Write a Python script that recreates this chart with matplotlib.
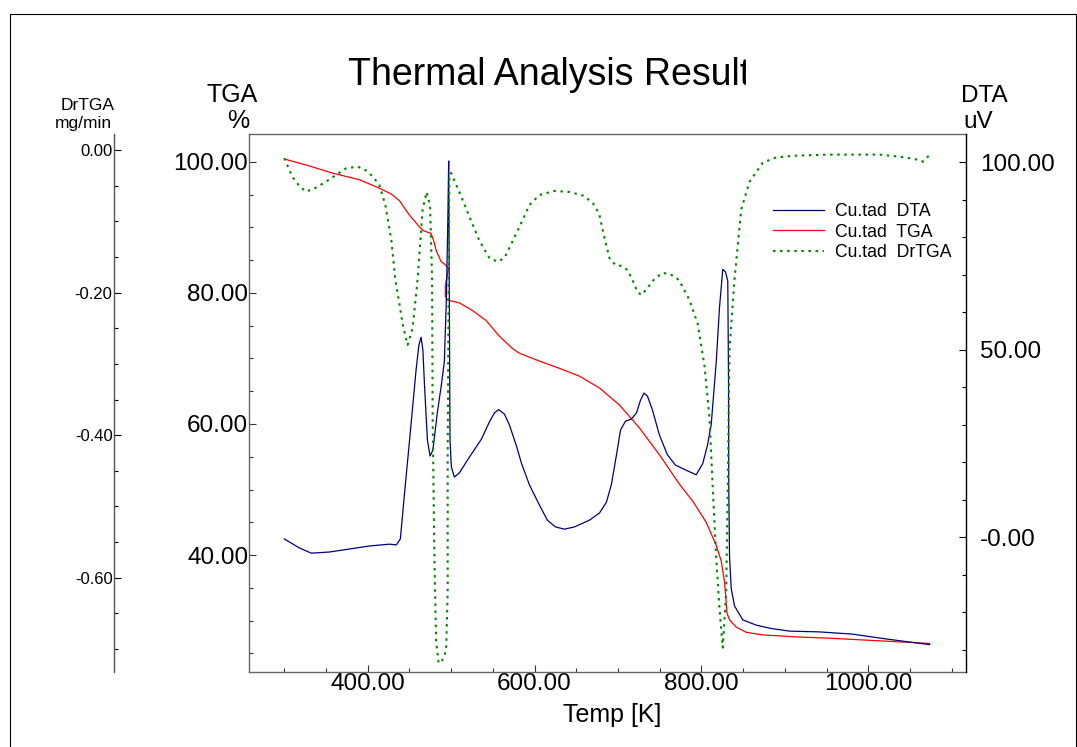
import numpy as np
import matplotlib
matplotlib.use('Agg')
import matplotlib.pyplot as plt
from matplotlib.ticker import MultipleLocator, FuncFormatter
from matplotlib.transforms import Bbox, TransformedBbox
from matplotlib.patches import Rectangle

plt.rcParams['font.family'] = ['Liberation Sans', 'DejaVu Sans']

# valores: (Temp [K], valor)
dta_pts = [(300.0, -0.5), (318.0, -2.9), (332.4, -4.3), (354.0, -4.0), (377.9, -3.2),
           (401.9, -2.4), (425.9, -1.9), (434.3, -2.1), (439.1, -0.5), (443.9, 11.2),
           (449.9, 25.3), (457.9, 44.5), (461.3, 51.2), (463.9, 53.3), (466.1, 49.9),
           (467.9, 41.1), (471.5, 25.9), (474.7, 21.6), (478.1, 23.2), (483.5, 33.3),
           (488.2, 40.5), (491.8, 46.7), (494.2, 63.2), (496.0, 84.5), (497.0, 100.3),
           (497.8, 63.2), (498.6, 25.9), (500.2, 18.7), (503.8, 16.0), (509.8, 17.1),
           (521.8, 21.3), (536.2, 26.1), (545.8, 30.7), (551.8, 33.1), (556.9, 34.0),
           (563.8, 32.8), (569.8, 29.9), (578.2, 24.3), (584.2, 19.7), (593.8, 13.9),
           (605.8, 8.5), (615.3, 4.5), (624.9, 2.7), (635.7, 2.1), (647.7, 2.7),
           (665.7, 4.5), (677.7, 6.4), (686.1, 9.3), (692.1, 14.1), (698.1, 21.9),
           (702.9, 28.5), (708.9, 30.9), (716.1, 31.5), (722.1, 33.1), (726.9, 36.5),
           (731.1, 38.4), (735.2, 37.6), (741.2, 33.9), (749.6, 27.2), (759.2, 21.9),
           (768.8, 19.2), (780.8, 17.9), (793.6, 16.6), (801.5, 19.6), (807.2, 24.5),
           (811.6, 29.9), (817.6, 46.5), (821.6, 61.3), (825.5, 71.4), (828.8, 70.7),
           (831.5, 68.3), (832.4, 41.1), (832.7, 13.1), (833.6, -5.3), (835.6, -13.7),
           (839.6, -18.4), (849.5, -22.1), (865.6, -23.5), (883.6, -24.4), (905.5, -25.1),
           (941.5, -25.3), (981.1, -25.9), (1021.8, -27.2), (1073.4, -28.7)]

tga_pts = [(300.0, 100.46), (330.0, 99.4), (357.6, 98.3), (389.9, 97.3), (413.9, 96.0),
           (428.3, 95.1), (437.9, 94.1), (449.9, 91.9), (461.9, 90.1), (466.7, 89.5),
           (475.9, 89.1), (478.7, 88.1), (482.3, 86.4), (487.9, 84.8), (493.0, 84.3),
           (496.6, 83.8), (495.4, 82.7), (493.0, 81.2), (493.0, 79.5), (495.8, 78.9),
           (509.8, 78.5), (525.8, 77.3), (541.8, 75.8), (557.8, 73.4), (573.7, 71.5),
           (581.8, 70.8), (605.8, 69.6), (629.7, 68.5), (653.7, 67.3), (677.7, 65.5),
           (701.7, 62.9), (725.6, 59.4), (749.6, 55.3), (773.6, 50.8), (789.6, 48.2),
           (805.6, 45.0), (817.6, 41.5), (823.6, 39.1), (827.6, 35.9), (829.6, 32.8),
           (830.6, 31.1), (833.6, 30.1), (841.6, 29.0), (853.6, 28.2), (873.5, 27.8),
           (913.5, 27.5), (953.5, 27.3), (1013.4, 26.9), (1073.4, 26.5)]

drtga_pts = [(300.0, -0.0116), (309.6, -0.0374), (318.0, -0.0505), (326.0, -0.0585),
             (337.2, -0.0533), (350.0, -0.0445), (362.0, -0.0351), (374.0, -0.0257),
             (387.9, -0.0234), (397.1, -0.0281), (405.5, -0.0365), (413.9, -0.0491),
             (421.1, -0.0771), (428.3, -0.1262), (433.1, -0.1823), (437.9, -0.2151),
             (441.8, -0.2440), (447.8, -0.2735), (453.8, -0.2496), (459.8, -0.1809),
             (465.8, -0.0834), (470.6, -0.0589), (474.7, -0.0785), (477.1, -0.1809),
             (477.8, -0.3759), (479.9, -0.5708), (481.9, -0.6882), (485.0, -0.7199),
             (489.4, -0.7153), (493.9, -0.7027), (495.8, -0.6199), (495.8, -0.4250),
             (497.0, -0.1809), (497.8, -0.0348), (499.9, -0.0323), (509.8, -0.0589),
             (521.8, -0.0933), (533.8, -0.1273), (545.8, -0.1515), (555.8, -0.1567),
             (563.8, -0.1515), (569.8, -0.1372), (581.8, -0.1080), (593.8, -0.0771),
             (605.8, -0.0631), (623.7, -0.0575), (641.7, -0.0589), (659.7, -0.0645),
             (671.7, -0.0771), (677.7, -0.0912), (683.7, -0.1234), (689.7, -0.1515),
             (696.9, -0.1613), (704.1, -0.1627), (711.3, -0.1683), (717.3, -0.1823),
             (723.3, -0.1992), (728.1, -0.2034), (735.2, -0.1935), (743.6, -0.1809),
             (753.2, -0.1725), (761.6, -0.1739), (768.8, -0.1781), (773.6, -0.1837),
             (785.6, -0.2104), (795.5, -0.2440), (803.6, -0.3029), (809.6, -0.3759),
             (813.5, -0.4740), (817.6, -0.5708), (821.6, -0.6443), (825.5, -0.6979),
             (829.6, -0.6199), (831.5, -0.4740), (833.6, -0.2785), (839.6, -0.1809),
             (847.6, -0.0834), (857.6, -0.0445), (873.5, -0.0177), (889.6, -0.0104),
             (913.5, -0.0079), (953.5, -0.0065), (1013.4, -0.0065), (1037.4, -0.0094),
             (1055.4, -0.0126), (1065.3, -0.0164), (1073.4, -0.0070)]

legend_labels = ['Cu.tad  DTA', 'Cu.tad  TGA', 'Cu.tad  DrTGA']

t_dta, v_dta = np.array(dta_pts).T
t_tga, v_tga = np.array(tga_pts).T
t_dr, v_dr = np.array(drtga_pts).T

W, H = 1077, 747
fig = plt.figure(figsize=(W / 100, H / 100), dpi=100)

# caixa do grafico (em pixels da imagem)
L, R, T, B = 249, 966, 134, 672
ax = fig.add_axes([L / W, 1 - B / H, (R - L) / W, (B - T) / H])
ax_dta = ax.twinx()
ax_dr = ax.twinx()

gray = '#666666'
fmt2 = FuncFormatter(lambda v, p: '%.2f' % v)

# TGA (eixo esquerdo)
l_tga, = ax.plot(t_tga, v_tga, color='#ff0000', lw=0.9)
ax.set_xlim(257.7, 1117)
ax.set_ylim(22.14, 104.27)
ax.xaxis.set_major_locator(MultipleLocator(200))
ax.xaxis.set_minor_locator(MultipleLocator(50))
ax.yaxis.set_major_locator(MultipleLocator(20))
ax.yaxis.set_minor_locator(MultipleLocator(5))
ax.xaxis.set_major_formatter(fmt2)
ax.yaxis.set_major_formatter(fmt2)
ax.tick_params(which='both', direction='in', colors='#333333', labelcolor='black', width=0.8)
ax.tick_params(which='major', length=5, labelsize=17.5)
ax.tick_params(which='minor', length=3)
ax.tick_params(axis='y', pad=0.5)
ax.tick_params(axis='x', pad=1)
for s in ['left', 'top', 'bottom']:
    ax.spines[s].set_color(gray)
    ax.spines[s].set_linewidth(1.0)
ax.spines['right'].set_visible(False)

# DTA (eixo direito)
l_dta, = ax_dta.plot(t_dta, v_dta, color='#000080', lw=0.9)
ax_dta.set_ylim(-36.0, 107.5)
ax_dta.yaxis.set_major_locator(MultipleLocator(50))
ax_dta.yaxis.set_minor_locator(MultipleLocator(10))
ax_dta.yaxis.set_major_formatter(FuncFormatter(lambda v, p: '-0.00' if abs(v) < 1e-9 else '%.2f' % v))
ax_dta.tick_params(which='both', direction='in', width=0.8, pad=10)
ax_dta.tick_params(which='major', length=5, labelsize=17.5)
ax_dta.tick_params(which='minor', length=3)
for s in ['left', 'top', 'bottom']:
    ax_dta.spines[s].set_visible(False)
ax_dta.spines['right'].set_color('black')
ax_dta.spines['right'].set_linewidth(1.0)

# DrTGA (eixo separado a esquerda)
l_dr, = ax_dr.plot(t_dr, v_dr, color='#008800', lw=1.5, linestyle=(0, (1.2, 2.2)))
ax_dr.set_ylim(-0.7321, 0.0224)
ax_dr.yaxis.set_ticks_position('left')
ax_dr.yaxis.set_label_position('left')
ax_dr.spines['left'].set_position(('axes', (114 - L) / (R - L)))
ax_dr.spines['left'].set_color('#555555')
ax_dr.spines['left'].set_linewidth(1.0)
for s in ['right', 'top', 'bottom']:
    ax_dr.spines[s].set_visible(False)
ax_dr.yaxis.set_major_locator(MultipleLocator(0.2))
ax_dr.yaxis.set_minor_locator(MultipleLocator(0.05))
ax_dr.yaxis.set_major_formatter(FuncFormatter(lambda v, p: '0.00' if abs(v) < 1e-9 else '%.2f' % v))
ax_dr.tick_params(which='both', direction='in', width=0.8, pad=1)
ax_dr.tick_params(which='major', length=5, labelsize=12)
ax_dr.tick_params(which='minor', length=3)

# textos
fx = lambda x: x / W
fy = lambda y: 1 - y / H
title = fig.text(fx(348), fy(85), 'Thermal Analysis Result', fontsize=27, va='baseline', ha='left')
title.set_clip_box(TransformedBbox(Bbox.from_extents(0, 0, fx(746), 1), fig.transFigure))
title.set_clip_on(True)

fig.text(fx(232), fy(101.7), 'TGA', fontsize=18, ha='center', va='baseline')
fig.text(fx(238), fy(128.3), '%', fontsize=18, ha='center', va='baseline')
fig.text(fx(115), fy(110), 'DrTGA', fontsize=12.5, ha='right', va='baseline')
fig.text(fx(112), fy(128), 'mg/min', fontsize=12.5, ha='right', va='baseline')
fig.text(fx(984), fy(101.7), 'DTA', fontsize=17.5, ha='center', va='baseline')
fig.text(fx(978), fy(127.5), 'uV', fontsize=17.5, ha='center', va='baseline')
fig.text(fx(612), fy(722), 'Temp [K]', fontsize=18, ha='center', va='baseline')

fig.legend([l_dta, l_tga, l_dr], legend_labels, loc='upper left',
           bbox_to_anchor=(fx(773), fy(203)), frameon=False, fontsize=12.7,
           handlelength=2.9, handletextpad=0.62, labelspacing=0.2,
           borderpad=0, borderaxespad=0)

# moldura externa
fig.patches.append(Rectangle((fx(9.5), fy(748)), (1076 - 9.5) / W, (748 - 13.5) / H,
                             transform=fig.transFigure, fill=False, ec='black', lw=0.8))

fig.savefig('out.png', dpi=100)
